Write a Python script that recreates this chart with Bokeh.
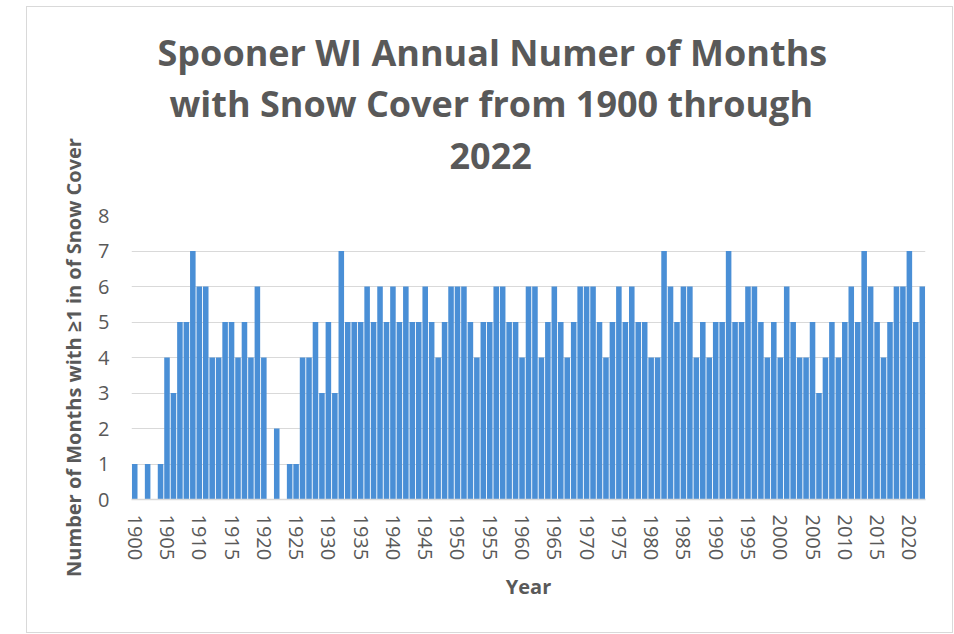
from bokeh.plotting import figure
from bokeh.models import Title, FixedTicker, Range1d, InlineStyleSheet
from bokeh.embed import file_html
from bokeh.resources import INLINE

# ---- data ----
years = list(range(1900, 2023))
months_snow = [
    1, 0, 1, 0, 1, 4, 3, 5, 5, 7,   # 1900s
    6, 6, 4, 4, 5, 5, 4, 5, 4, 6,   # 1910s
    4, 0, 2, 0, 1, 1, 4, 4, 5, 3,   # 1920s
    5, 3, 7, 5, 5, 5, 6, 5, 6, 5,   # 1930s
    6, 5, 6, 5, 5, 6, 5, 4, 5, 6,   # 1940s
    6, 6, 5, 4, 5, 5, 6, 6, 5, 5,   # 1950s
    4, 6, 6, 4, 5, 6, 5, 4, 5, 6,   # 1960s
    6, 6, 5, 4, 5, 6, 5, 6, 5, 5,   # 1970s
    4, 4, 7, 6, 5, 6, 6, 4, 5, 4,   # 1980s
    5, 5, 7, 5, 5, 6, 6, 5, 4, 5,   # 1990s
    4, 6, 5, 4, 4, 5, 3, 4, 5, 4,   # 2000s
    5, 6, 5, 7, 6, 5, 4, 5, 6, 6,   # 2010s
    7, 5, 6,                        # 2020-2022
]
x_ticks = list(range(1900, 2021, 5))
y_ticks = list(range(0, 9))
title_lines = ["Spooner WI Annual Numer of Months",
               "with Snow Cover from 1900 through",
               "2022"]
x_title = "Year"
y_title = "Number of Months with \u22651 in of Snow Cover"

FONT = "Open Sans"
GREY = "#595959"

border_css = InlineStyleSheet(css="""
:host { position: relative; }
:host::after {
  content: ""; position: absolute; left: 26px; top: 6px;
  width: 927px; height: 627px; box-sizing: border-box;
  border: 1.5px solid #d9d9d9; pointer-events: none;
}
""")

p = figure(width=954, height=634, output_backend="svg", toolbar_location=None,
           x_range=Range1d(years[0] - 0.5, years[-1] + 0.5),
           y_range=Range1d(0, 8),
           min_border_left=131, min_border_right=29,
           min_border_top=215, min_border_bottom=135,
           stylesheets=[border_css])
p.outline_line_color = None
p.background_fill_color = "white"
p.border_fill_color = "white"

p.vbar(x=years, top=months_snow, width=0.86, fill_color="#4a8fd6", line_color=None)

# grid
p.xgrid.grid_line_color = None
p.ygrid.grid_line_color = "#d9d9d9"
p.ygrid.grid_line_width = 1
p.ygrid.ticker = FixedTicker(ticks=y_ticks)

# x axis
xa = p.xaxis[0]
xa.ticker = FixedTicker(ticks=x_ticks)
xa.major_label_orientation = "vertical"
xa.major_tick_line_color = None
xa.minor_tick_line_color = None
xa.axis_line_color = "#d9d9d9"
xa.axis_line_width = 1.5
xa.major_label_text_font = FONT
xa.major_label_text_font_size = "20px"
xa.major_label_text_color = GREY
xa.major_label_standoff = 9
xa.axis_label = x_title
xa.axis_label_text_font = FONT
xa.axis_label_text_font_style = "bold"
xa.axis_label_text_font_size = "20px"
xa.axis_label_text_color = GREY
xa.axis_label_standoff = 10

# y axis
ya = p.yaxis[0]
ya.ticker = FixedTicker(ticks=y_ticks)
ya.major_tick_line_color = None
ya.minor_tick_line_color = None
ya.axis_line_color = None
ya.major_label_text_font = FONT
ya.major_label_text_font_size = "20px"
ya.major_label_text_color = GREY
ya.major_label_standoff = 16
ya.axis_label = y_title
ya.axis_label_text_font = FONT
ya.axis_label_text_font_style = "bold"
ya.axis_label_text_font_size = "20px"
ya.axis_label_text_color = GREY
ya.axis_label_standoff = 8

# title: spacer then three lines stacked upward from the frame
p.add_layout(Title(text=" ", text_font_size="1px", standoff=29.5), "above")
title_offsets = [26, 38, 318]
title_standoffs = [0, 0, 26]
for txt, off, so in reversed(list(zip(title_lines, title_offsets, title_standoffs))):
    p.add_layout(Title(text=txt, align="left", offset=off, standoff=so,
                       vertical_align="middle",
                       text_font=FONT, text_font_style="bold",
                       text_font_size="36px", text_color=GREY), "above")

open("out.html", "w").write(file_html(p, INLINE))
